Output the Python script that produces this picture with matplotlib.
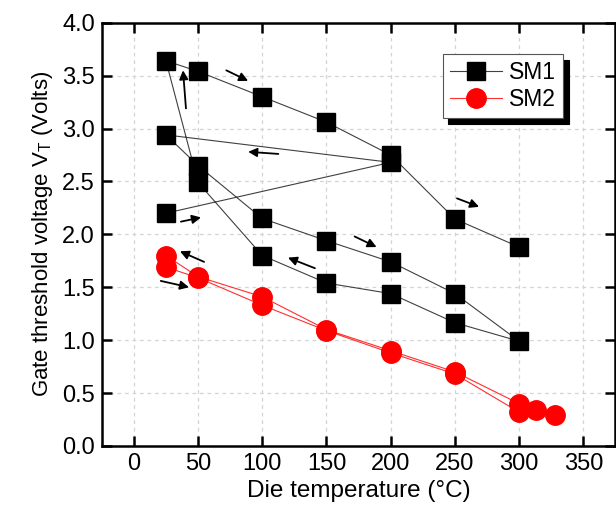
import matplotlib
matplotlib.use("Agg")
import matplotlib.pyplot as plt

plt.rcParams['font.family'] = ['Liberation Sans', 'DejaVu Sans']
plt.rcParams['mathtext.fontset'] = 'custom'
plt.rcParams['mathtext.rm'] = 'Liberation Sans'
plt.rcParams['mathtext.it'] = 'Liberation Sans:italic'

# SM1 measurement path (die temperature in degC, threshold voltage in V)
sm1_temp = [25, 200, 25, 50, 100, 150, 200, 250, 300, 250, 200, 150, 100, 50, 25,
            50, 100, 150, 200, 250, 300]
sm1_vt = [2.20, 2.68, 2.94, 2.65, 2.15, 1.94, 1.74, 1.44, 0.99, 1.165, 1.44, 1.54, 1.80, 2.49, 3.64,
          3.54, 3.30, 3.06, 2.75, 2.145, 1.88]

# SM2 measurement path
sm2_temp = [25, 50, 100, 150, 200, 250, 300, 313, 328, 300, 250, 200, 150, 100, 50, 25]
sm2_vt = [1.69, 1.59, 1.33, 1.09, 0.88, 0.68, 0.32, 0.34, 0.29, 0.40, 0.70, 0.90, 1.10, 1.41, 1.60, 1.80]

# arrows: (start_x, start_y, end_x, end_y)
arrows = [
    (72, 3.55, 89, 3.45),
    (40.6, 3.19, 38.3, 3.55),
    (112.5, 2.76, 89, 2.78),
    (36.7, 2.12, 52.3, 2.16),
    (251.6, 2.34, 268.8, 2.26),
    (171.9, 1.98, 189, 1.88),
    (141, 1.68, 120, 1.78),
    (54.7, 1.74, 35.9, 1.84),
    (21, 1.56, 43, 1.50),
]

xticks = [0, 50, 100, 150, 200, 250, 300, 350]
yticks = [0.0, 0.5, 1.0, 1.5, 2.0, 2.5, 3.0, 3.5, 4.0]

fig = plt.figure(figsize=(6.16, 5.14), dpi=100)
ax = fig.add_axes([101.7 / 616, (514 - 446) / 514, (615.5 - 101.7) / 616, (446 - 22.7) / 514])

ax.plot(sm1_temp, sm1_vt, color='#404040', lw=0.8, marker='s', ms=12.5,
        mfc='black', mec='black', label='SM1', zorder=3)
ax.plot(sm2_temp, sm2_vt, color='#ff3030', lw=0.8, marker='o', ms=14,
        mfc='#ff0000', mec='#ff0000', label='SM2', zorder=3)

for x0, y0, x1, y1 in arrows:
    ax.annotate('', xy=(x1, y1), xytext=(x0, y0),
                arrowprops=dict(arrowstyle='-|>', color='black', lw=1.3,
                                mutation_scale=13, shrinkA=0, shrinkB=0), zorder=4)

ax.set_xlim(-25, 375)
ax.set_ylim(0, 4)
ax.set_xticks(xticks)
ax.set_yticks(yticks)
ax.set_yticklabels([f'{v:.1f}' for v in yticks])
ax.grid(True, color='#d4d4d4', ls=(0, (3, 3)), lw=0.9)
ax.set_axisbelow(True)

ax.tick_params(direction='in', length=7, width=1.8, labelsize=17, top=True, right=True,
               labeltop=False, labelright=False, pad=5)
for s in ax.spines.values():
    s.set_linewidth(1.8)

ax.set_xlabel('Die temperature (°C)', fontsize=17.5, labelpad=4)
ax.set_ylabel('Gate threshold voltage V$_\\mathregular{T}$ (Volts)', fontsize=16, labelpad=5)

leg = ax.legend(loc='upper right', bbox_to_anchor=(0.898, 0.926), fontsize=16.5,
                frameon=True, fancybox=False, edgecolor='#555555', framealpha=1,
                shadow={'color': 'black', 'alpha': 1, 'ox': 4, 'oy': -4},
                handlelength=2.3, borderpad=0.3, labelspacing=0.2, handletextpad=0.3,
                borderaxespad=0)
leg.get_frame().set_linewidth(0.8)

fig.savefig('out.png', dpi=100)
